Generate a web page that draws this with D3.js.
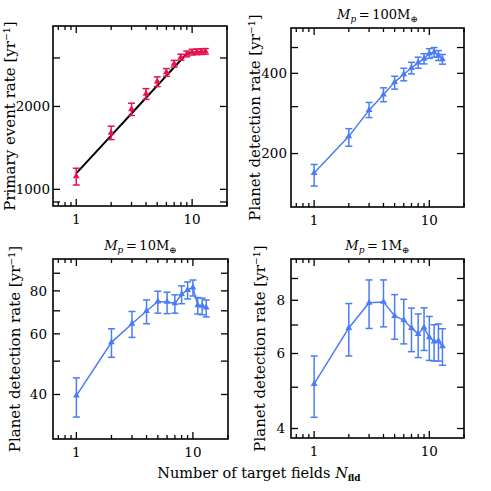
<!DOCTYPE html>
<html><head><meta charset="utf-8">
<script src="https://cdn.jsdelivr.net/npm/d3@7"></script>
<style>body{margin:0;background:#fff}svg{display:block}text{font-family:"DejaVu Serif",serif;fill:#000}</style>
</head><body>
<script>
// ---- data ----
const nFields = [1,2,3,4,5,6,7,8,9,10,11,12,13];

const primaryRate = [1115,1606,1955,2222,2462,2660,2860,3020,3105,3150,3160,3165,3170];
const primaryErr  = [78,90,100,100,100,85,80,75,75,75,75,75,75];
const primaryModel = [1143,1568,1886,2151,2382,2588,2775,2950,3113,3135,3145,3155,3160];

const rate100 = [169,232,291,333,371,397,419,439,454,475,480,467,452];
const err100lo = [18,19,18,20,22,22,21,21,20,20,20,20,19];
const err100hi = [13,16,20,20,19,21,21,21,20,20,20,20,19];

const rate10 = [39.7,56.7,64.2,69.9,74.5,74.3,73.6,78.2,80.5,81.8,72.7,72.4,71.5];
const err10lo = [5.3,5.4,5.6,5.7,5.6,5.6,4.7,4.8,4.7,4.5,4.2,4.2,4.3];
const err10hi = [5.0,5.4,5.5,5.4,5.3,5.0,4.3,4.5,4.4,4.2,3.8,3.8,3.8];

const rate1 = [5.09,6.89,7.89,7.93,7.35,7.19,6.89,6.67,6.90,6.55,6.40,6.42,6.24];
const err1lo = [0.84,0.97,1.02,1.00,0.87,0.87,0.83,0.80,0.80,0.77,0.64,0.66,0.61];
const err1hi = [0.83,0.97,1.04,1.00,0.90,0.85,0.78,0.76,0.78,0.78,0.61,0.62,0.62];

const xDomain = [0.63, 20];
const xMajor = [1, 10];
const xMinor = [0.7,0.8,0.9,2,3,4,5,6,7,8,9,20];

const yDomain1 = [870, 3920];   const yTicks1 = [900,1000,2000,3000]; const yLabels1 = [1000,2000];
const yDomain2 = [126, 592];    const yTicks2 = [200,300,400,500];    const yLabels2 = [200,400];
const yDomain3 = [29.7, 99];    const yTicks3 = [40,50,60,70,80,90];  const yLabels3 = [40,60,80];
const yDomain4 = [3.8, 10];     const yTicks4 = [4,5,6,7,8,9];        const yLabels4 = [4,6,8];

const RED = "#e8124f", BLUE = "#4a7cf6";

const W = 491, H = 491;
const svg = d3.select("body").append("svg").attr("width", W).attr("height", H);

function panel(o) {
  const x = d3.scaleLog().domain(xDomain).range([o.left, o.right]);
  const y = d3.scaleLog().domain(o.yDomain).range([o.bottom, o.top]);
  const g = svg.append("g");
  const data = nFields.map((n, i) => ({n, v: o.vals[i], lo: o.vals[i] - o.elo[i], hi: o.vals[i] + o.ehi[i]}));

  if (o.model) {
    g.append("path").datum(nFields.map((n, i) => [n, o.model[i]]))
      .attr("d", d3.line().x(d => x(d[0])).y(d => y(d[1])))
      .attr("fill", "none").attr("stroke", "#000").attr("stroke-width", 2);
  } else {
    g.append("path").datum(data)
      .attr("d", d3.line().x(d => x(d.n)).y(d => y(d.v)))
      .attr("fill", "none").attr("stroke", o.color).attr("stroke-width", 1.5);
  }
  const eb = g.append("g").attr("stroke", o.color).attr("stroke-width", 1.5).attr("fill", "none");
  data.forEach(d => {
    const cx = x(d.n), cap = 3.5;
    eb.append("line").attr("x1", cx).attr("x2", cx).attr("y1", y(d.lo)).attr("y2", y(d.hi));
    eb.append("line").attr("x1", cx - cap).attr("x2", cx + cap).attr("y1", y(d.lo)).attr("y2", y(d.lo));
    eb.append("line").attr("x1", cx - cap).attr("x2", cx + cap).attr("y1", y(d.hi)).attr("y2", y(d.hi));
  });
  const tri = d3.symbol().type(d3.symbolTriangle).size(20);
  g.append("g").selectAll("path").data(data).join("path")
    .attr("d", tri).attr("transform", d => `translate(${x(d.n)},${y(d.v)})`)
    .attr("fill", o.color);

  g.append("rect").attr("x", o.left).attr("y", o.top)
    .attr("width", o.right - o.left).attr("height", o.bottom - o.top)
    .attr("fill", "none").attr("stroke", "#000").attr("stroke-width", 1.6);
  const tk = g.append("g").attr("stroke", "#000").attr("stroke-width", 1.3);
  xMajor.concat(xMinor).forEach(t => {
    const len = xMajor.includes(t) ? 7 : 4;
    const px = x(t);
    tk.append("line").attr("x1", px).attr("x2", px).attr("y1", o.bottom).attr("y2", o.bottom - len);
    tk.append("line").attr("x1", px).attr("x2", px).attr("y1", o.top).attr("y2", o.top + len);
  });
  o.yTicks.forEach(t => {
    const py = y(t);
    tk.append("line").attr("x1", o.left).attr("x2", o.left + 7).attr("y1", py).attr("y2", py);
    tk.append("line").attr("x1", o.right).attr("x2", o.right - 7).attr("y1", py).attr("y2", py);
  });
  xMajor.forEach(t => {
    g.append("text").attr("x", x(t)).attr("y", o.bottom + 18)
      .attr("text-anchor", "middle").attr("font-size", 13.5).text(d3.format("d")(t));
  });
  o.yLabels.forEach(t => {
    g.append("text").attr("x", o.ylabX).attr("y", y(t)).attr("dy", "0.35em")
      .attr("text-anchor", "end").attr("font-size", 13.5).text(t);
  });
  g.append("text").attr("transform", `translate(${o.titleX},${(o.top + o.bottom) / 2}) rotate(-90)`)
    .attr("text-anchor", "middle").attr("dy", "0.35em").attr("font-size", 15).text(o.ytitle);
  if (o.mass) {
    const t = g.append("text").attr("x", (o.left + o.right) / 2).attr("y", o.top - 9)
      .attr("text-anchor", "middle").attr("font-size", 13);
    t.append("tspan").attr("font-style", "italic").text("M");
    t.append("tspan").attr("font-style", "italic").attr("font-size", 9).attr("dy", 3).text("p");
    t.append("tspan").attr("dy", -3).text("\u2009=\u2009" + o.mass + "M");
    t.append("tspan").attr("font-size", 9).attr("dy", 3).text("\u2295");
  }
}

panel({left:53, right:227, top:26, bottom:206, yDomain:yDomain1, yTicks:yTicks1, yLabels:yLabels1,
  vals:primaryRate, elo:primaryErr, ehi:primaryErr, model:primaryModel, color:RED,
  ylabX:50, titleX:10, ytitle:"Primary event rate [yr\u207B\u00B9]"});
panel({left:291, right:464, top:28, bottom:207, yDomain:yDomain2, yTicks:yTicks2, yLabels:yLabels2,
  vals:rate100, elo:err100lo, ehi:err100hi, color:BLUE, mass:"100",
  ylabX:287, titleX:255, ytitle:"Planet detection rate [yr\u207B\u00B9]"});
panel({left:53, right:228, top:259, bottom:439, yDomain:yDomain3, yTicks:yTicks3, yLabels:yLabels3,
  vals:rate10, elo:err10lo, ehi:err10hi, color:BLUE, mass:"10",
  ylabX:47, titleX:15, ytitle:"Planet detection rate [yr\u207B\u00B9]"});
panel({left:291, right:464, top:259, bottom:438, yDomain:yDomain4, yTicks:yTicks4, yLabels:yLabels4,
  vals:rate1, elo:err1lo, ehi:err1hi, color:BLUE, mass:"1",
  ylabX:285, titleX:260, ytitle:"Planet detection rate [yr\u207B\u00B9]"});

const xl = svg.append("text").attr("x", 259).attr("y", 478).attr("text-anchor", "middle").attr("font-size", 14.5);
xl.append("tspan").text("Number of target fields ");
xl.append("tspan").attr("font-style", "italic").text("N");
xl.append("tspan").attr("font-size", 9).attr("font-weight", "bold").attr("dy", 3).text("fld");
</script>
</body></html>
